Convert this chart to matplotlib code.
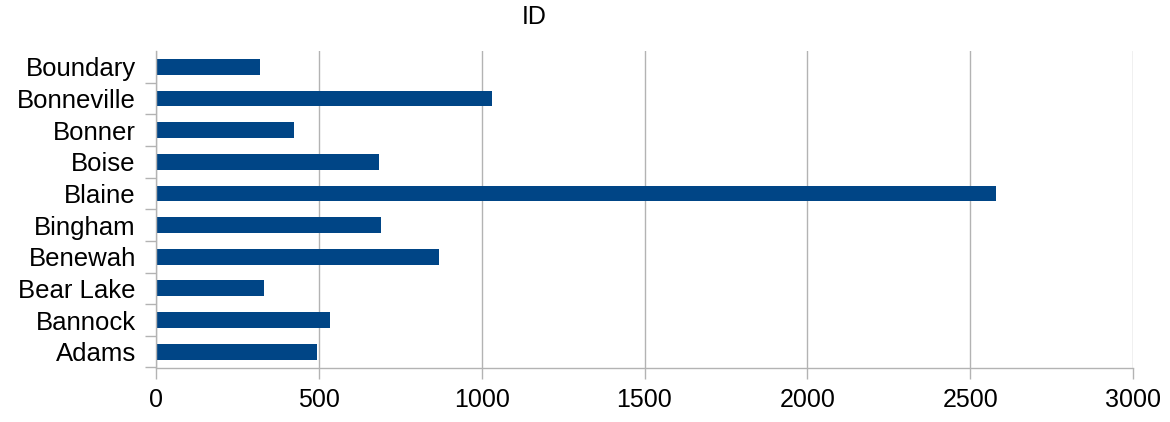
import numpy as np
import matplotlib.pyplot as plt

counties = ['Adams', 'Bannock', 'Bear Lake', 'Benewah', 'Bingham',
            'Blaine', 'Boise', 'Bonner', 'Bonneville', 'Boundary']
values = [494, 534, 331, 868, 692, 2579, 684, 423, 1033, 319]

plt.rcParams['font.family'] = ['Liberation Sans', 'DejaVu Sans']

fig = plt.figure(figsize=(11.7, 4.22), dpi=100)
ax = fig.add_axes([156 / 1170, 1 - 367.5 / 422, (1133 - 156) / 1170, (367.5 - 51) / 422])

y = np.arange(len(counties))
ax.barh(y, values, height=0.5, color='#004586', zorder=3)

ax.set_xlim(0, 3000)
ax.set_ylim(-0.5, len(counties) - 0.5)
ax.set_xticks(np.arange(0, 3001, 500))
ax.set_yticks(y)
ax.set_yticklabels(counties)
ax.set_yticks(np.arange(-0.5, len(counties) - 1, 1), minor=True)

grid_col = '#b3b3b3'
ax.grid(axis='x', color=grid_col, linewidth=1, zorder=0)
for s in ['top', 'right']:
    ax.spines[s].set_visible(False)
for s in ['left', 'bottom']:
    ax.spines[s].set_color(grid_col)
    ax.spines[s].set_linewidth(1)
    ax.spines[s].set_zorder(4)

ax.tick_params(axis='y', which='major', length=0, labelsize=18.5, pad=14.5)
ax.tick_params(axis='y', which='minor', length=8, color=grid_col, width=1)
ax.tick_params(axis='x', length=8, color=grid_col, width=1, labelsize=18, pad=7)

fig.text(534 / 1170, 1 - 17 / 422, 'ID', ha='center', va='center', fontsize=18)

fig.savefig('out.png', dpi=100)
